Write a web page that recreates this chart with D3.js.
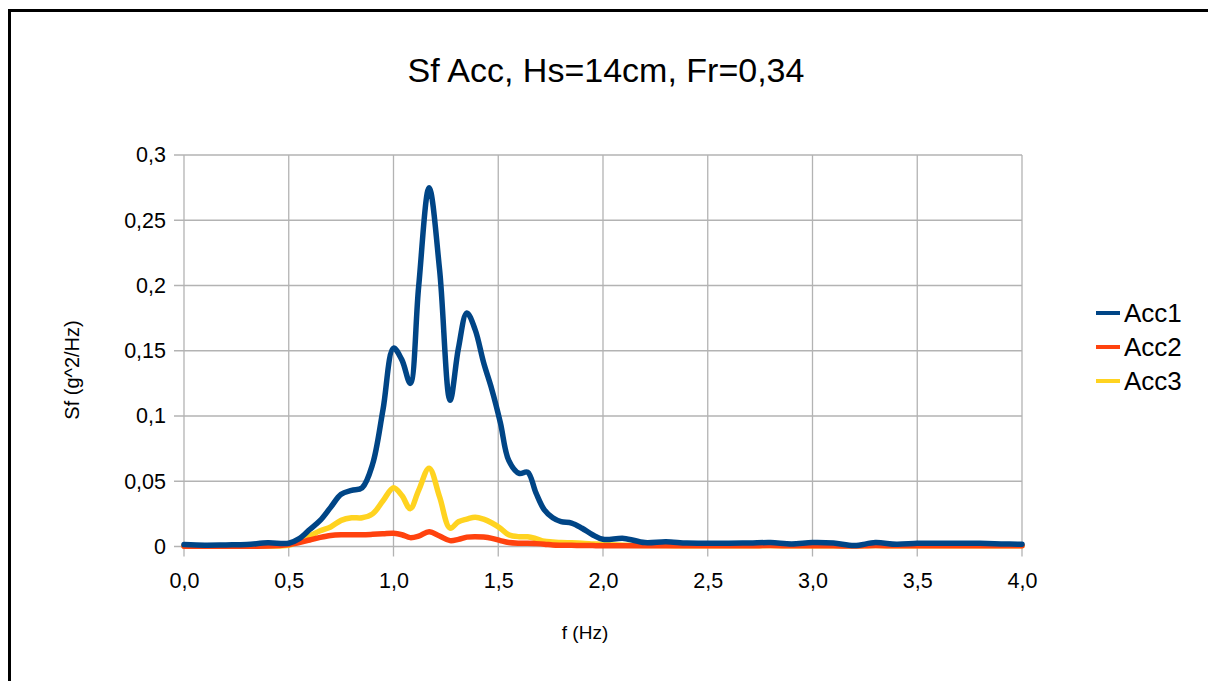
<!DOCTYPE html>
<html>
<head>
<meta charset="utf-8">
<script src="https://cdn.jsdelivr.net/npm/d3@7"></script>
<style>
  html, body { margin: 0; padding: 0; background: #fff; }
  svg { display: block; font-family: "Liberation Sans", Arial, sans-serif; }
</style>
</head>
<body>
<svg id="chart" width="1208" height="681"></svg>
<script>
// Spectral density of the three accelerometers
const freq = [0.0, 0.1, 0.2, 0.3, 0.4, 0.5, 0.55, 0.6, 0.65, 0.7, 0.75, 0.8, 0.85, 0.9, 0.95,
  1.0, 1.04, 1.08, 1.12, 1.17, 1.22, 1.27, 1.31, 1.35, 1.39, 1.43, 1.47, 1.51, 1.55, 1.6,
  1.64, 1.68, 1.72, 1.76, 1.8, 1.85, 1.9, 1.95, 2.0, 2.1, 2.2, 2.3, 2.4, 2.5, 2.6, 2.7,
  2.8, 2.9, 3.0, 3.1, 3.2, 3.3, 3.4, 3.5, 3.6, 3.7, 3.8, 3.9, 4.0];

const acc1 = [0.0015, 0.001, 0.0012, 0.0015, 0.0028, 0.0025, 0.006, 0.013, 0.02, 0.03, 0.04, 0.043, 0.045, 0.063, 0.105,
  0.152, 0.143, 0.125, 0.199, 0.275, 0.212, 0.112, 0.152, 0.179, 0.166, 0.141, 0.12, 0.095, 0.066, 0.056,
  0.057, 0.041, 0.028, 0.022, 0.019, 0.018, 0.014, 0.009, 0.0055, 0.0062, 0.003, 0.0037, 0.0026, 0.0025, 0.0025, 0.0027,
  0.003, 0.002, 0.003, 0.0026, 0.0007, 0.003, 0.0017, 0.0024, 0.0025, 0.0025, 0.0024, 0.002, 0.0017];

const acc2 = [0.0002, 0.0002, 0.0002, 0.0002, 0.0003, 0.0015, 0.003, 0.005, 0.007, 0.0085, 0.009, 0.009, 0.009, 0.0093, 0.0097,
  0.0101, 0.009, 0.0068, 0.008, 0.0113, 0.008, 0.0045, 0.0055, 0.0072, 0.0075, 0.0072, 0.0062, 0.0045, 0.003, 0.0025,
  0.0025, 0.0022, 0.0018, 0.0012, 0.001, 0.0009, 0.0008, 0.0007, 0.0006, 0.0005, 0.0005, 0.0005, 0.0005, 0.0005, 0.0005, 0.0005,
  0.0008, 0.0005, 0.0005, 0.0005, 0.0004, 0.0008, 0.0005, 0.0005, 0.0005, 0.0005, 0.0005, 0.0005, 0.0005];

const acc3 = [0.0003, 0.0003, 0.0003, 0.0003, 0.0004, 0.001, 0.004, 0.008, 0.012, 0.015, 0.02, 0.022, 0.022, 0.025, 0.035,
  0.045, 0.039, 0.029, 0.043, 0.06, 0.038, 0.014, 0.019, 0.021, 0.0225, 0.021, 0.018, 0.014, 0.009, 0.0075,
  0.0075, 0.006, 0.004, 0.0035, 0.003, 0.0028, 0.0025, 0.002, 0.0015, 0.001, 0.0008, 0.0007, 0.0006, 0.0006, 0.0006, 0.0006,
  0.0007, 0.0006, 0.0006, 0.0006, 0.0005, 0.0007, 0.0006, 0.0006, 0.0006, 0.0006, 0.0006, 0.0006, 0.0006];

const seriesNames = ["Acc1", "Acc2", "Acc3"];
const seriesColors = ["#004586", "#ff420e", "#ffd320"];
const seriesValues = [acc1, acc2, acc3];

const xTicks = [0, 0.5, 1.0, 1.5, 2.0, 2.5, 3.0, 3.5, 4.0];
const yTicks = [0, 0.05, 0.1, 0.15, 0.2, 0.25, 0.3];

const titleText = "Sf Acc, Hs=14cm, Fr=0,34";
const xTitle = "f (Hz)";
const yTitle = "Sf (g^2/Hz)";

const svg = d3.select("#chart");
const plot = { left: 184, right: 1022, top: 155, bottom: 546.5 };

const x = d3.scaleLinear().domain([0, 4]).range([plot.left, plot.right]);
const y = d3.scaleLinear().domain([0, 0.3]).range([plot.bottom, plot.top]);
const comma = d => String(d).replace(".", ",");

// outer frame
svg.append("rect")
  .attr("x", 9.5).attr("y", 10.5)
  .attr("width", 1220).attr("height", 700)
  .attr("fill", "none").attr("stroke", "#000").attr("stroke-width", 3);

// title
svg.append("text")
  .attr("x", 606).attr("y", 82)
  .attr("text-anchor", "middle")
  .attr("font-size", 34)
  .text(titleText);

// grid
const grid = svg.append("g").attr("stroke", "#b3b3b3").attr("stroke-width", 1.3);
grid.selectAll("line.h").data(yTicks).join("line")
  .attr("x1", plot.left - 10).attr("x2", plot.right)
  .attr("y1", d => y(d)).attr("y2", d => y(d));
grid.selectAll("line.v").data(xTicks).join("line")
  .attr("x1", d => x(d)).attr("x2", d => x(d))
  .attr("y1", plot.top).attr("y2", plot.bottom + 10);

// tick labels via d3 axes (grid carries the tick lines)
const xAxis = svg.append("g")
  .attr("transform", `translate(0,${plot.bottom})`)
  .call(d3.axisBottom(x).tickValues(xTicks).tickFormat(d => d3.format(".1f")(d).replace(".", ",")).tickSize(0).tickPadding(26));
const yAxis = svg.append("g")
  .attr("transform", `translate(${plot.left},0)`)
  .call(d3.axisLeft(y).tickValues(yTicks).tickFormat(comma).tickSize(0).tickPadding(18));
[xAxis, yAxis].forEach(a => {
  a.select(".domain").remove();
  a.selectAll("text").attr("font-size", 21.5).attr("fill", "#000")
    .attr("font-family", "'Liberation Sans', Arial, sans-serif");
});

// axis titles
svg.append("text")
  .attr("x", x(2) - 18).attr("y", 639)
  .attr("text-anchor", "middle").attr("font-size", 19)
  .text(xTitle);
svg.append("text")
  .attr("transform", `translate(79,370) rotate(-90)`)
  .attr("text-anchor", "middle").attr("font-size", 20)
  .text(yTitle);

// series lines: drawn back to front so Acc1 sits on top
const line = d3.line()
  .x((d, i) => x(freq[i]))
  .y(d => y(d))
  .curve(d3.curveCatmullRom.alpha(0.5));

const order = [2, 1, 0];
svg.append("g").selectAll("path").data(order).join("path")
  .attr("d", k => line(seriesValues[k]))
  .attr("fill", "none")
  .attr("stroke", k => seriesColors[k])
  .attr("stroke-width", 5.5)
  .attr("stroke-linejoin", "round")
  .attr("stroke-linecap", "round");

// legend
const legend = svg.append("g");
const items = legend.selectAll("g").data(seriesNames).join("g")
  .attr("transform", (d, i) => `translate(1096,${313 + i * 34})`);
items.append("line")
  .attr("x1", 0).attr("x2", 24)
  .attr("stroke", (d, i) => seriesColors[i]).attr("stroke-width", 4);
items.append("text")
  .attr("x", 28).attr("y", 9)
  .attr("font-size", 26)
  .text(d => d);
</script>
</body>
</html>
